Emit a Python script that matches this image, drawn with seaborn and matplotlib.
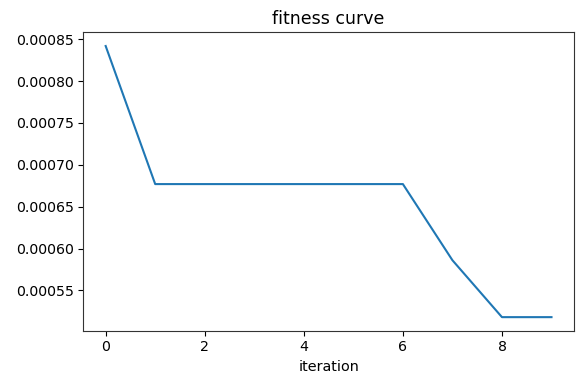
import matplotlib
matplotlib.use("Agg")
import matplotlib.pyplot as plt
import seaborn as sns
import pandas as pd

iterations = [0, 1, 2, 3, 4, 5, 6, 7, 8, 9]
fitness = [0.000842, 0.000677, 0.000677, 0.000677, 0.000677, 0.000677, 0.000677, 0.000586, 0.000518, 0.000518]

df = pd.DataFrame({"iteration": iterations, "fitness": fitness})

fig = plt.figure(figsize=(5.79, 3.73), dpi=100)
ax = fig.add_axes([0.144, 0.1134, 0.847, 0.7996])
sns.lineplot(data=df, x="iteration", y="fitness", ax=ax, color="#1f77b4", linewidth=1.5)
ax.set_title("fitness curve", fontsize=12.5)
ax.set_xlabel("iteration", fontsize=10.4)
ax.set_ylabel("")
ax.set_xticks([0, 2, 4, 6, 8])
ax.set_yticks([0.00055, 0.00060, 0.00065, 0.00070, 0.00075, 0.00080, 0.00085])
ax.set_yticklabels([f"{v:.5f}" for v in ax.get_yticks()])
ax.tick_params(labelsize=10.2)
for s in ax.spines.values():
    s.set_color("#333333")
fig.savefig("out.png", dpi=100)
